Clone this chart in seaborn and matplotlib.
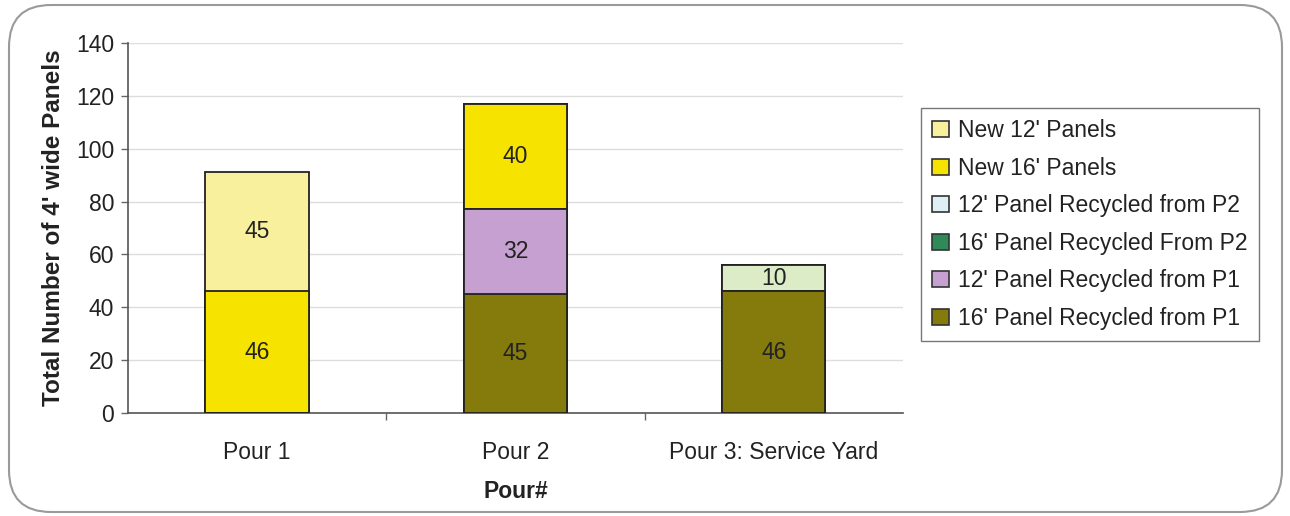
import pandas as pd
import numpy as np
import matplotlib.pyplot as plt
import seaborn as sns
from matplotlib.patches import FancyBboxPatch, Patch

pours = ['Pour 1', 'Pour 2', 'Pour 3: Service Yard']
# stack order, bottom to top
series = ["16' Panel Recycled from P1", "12' Panel Recycled from P1",
          "16' Panel Recycled From P2", "12' Panel Recycled from P2",
          "New 16' Panels", "New 12' Panels"]
p1_16 = [0, 45, 46]
p1_12 = [0, 32, 0]
p2_16 = [0, 0, 0]
p2_12 = [0, 0, 10]
new_16 = [46, 40, 0]
new_12 = [45, 0, 0]
bar_colors = ['#857b0c', '#c5a0d0', '#2f8a57', '#dcecc6', '#f6e400', '#f8f09c']
legend_colors = ['#857b0c', '#c5a0d0', '#2f8a57', '#dff0f4', '#f6e400', '#f8f09c']

values = [p1_16, p1_12, p2_16, p2_12, new_16, new_12]
df = pd.DataFrame({'Pour': pours})
for s, v in zip(series, values):
    df[s] = v
cum = df[series].cumsum(axis=1)
cum['Pour'] = pours

sns.set_theme(style='white')
plt.rcParams['font.family'] = ['Liberation Sans', 'DejaVu Sans']

fig = plt.figure(figsize=(12.9, 5.16), dpi=100)
frame = FancyBboxPatch((9, 4), 1273, 507, boxstyle='round,pad=0,rounding_size=42',
                       transform=None, facecolor='none', edgecolor='#9a9a9a',
                       linewidth=1.5, zorder=-1)
fig.patches.append(frame)
ax = fig.add_axes([128 / 1290, 1 - 413 / 516, 775 / 1290, 370 / 516])
ax.set_facecolor('none')

# draw cumulative totals from top layer down so lower layers cover
for i in range(len(series) - 1, -1, -1):
    sns.barplot(data=cum, x='Pour', y=series[i], color=bar_colors[i], width=0.4,
                edgecolor='#222222', linewidth=1.3, ax=ax, zorder=3, saturation=1)

# segment labels
for i, s in enumerate(series):
    bottoms = cum[series[i - 1]] if i > 0 else pd.Series([0] * 3)
    for j, v in enumerate(df[s]):
        if v > 0:
            ax.text(j, bottoms.iloc[j] + v / 2, str(v), ha='center', va='center',
                    fontsize=16.5, color='#222222', zorder=5)

ax.set_ylim(0, 140)
ax.set_xlim(-0.5, 2.5)
ax.set_yticks(range(0, 141, 20))
ax.yaxis.grid(True, color='#dddddd', linewidth=1)
ax.set_axisbelow(True)
ax.tick_params(axis='y', which='major', left=True, length=5, width=1, color='#666666',
               labelsize=16.5, pad=5, labelcolor='#222222')
ax.tick_params(axis='x', which='major', bottom=False, labelsize=16.5, pad=14,
               labelcolor='#222222')
ax.set_xticks([0.5, 1.5], minor=True)
ax.tick_params(axis='x', which='minor', bottom=True, length=5, width=1, color='#666666')
for side in ['top', 'right']:
    ax.spines[side].set_visible(False)
for side in ['left', 'bottom']:
    ax.spines[side].set_color('#555555')
    ax.spines[side].set_linewidth(1.2)
ax.set_xlabel('Pour#', fontsize=16.5, fontweight='bold', labelpad=12, color='#222222')
ax.set_ylabel("Total Number of 4' wide Panels", fontsize=17.5, fontweight='bold',
              labelpad=8, color='#222222')

handles = [Patch(facecolor=legend_colors[i], edgecolor='#333333', linewidth=1.2, label=series[i])
           for i in range(len(series) - 1, -1, -1)]
leg = fig.legend(handles=handles, loc='upper left', bbox_to_anchor=(921 / 1290, 1 - 108 / 516),
                 borderaxespad=0, frameon=True, fancybox=False, edgecolor='#555555',
                 fontsize=16.5, handlelength=0.7, handleheight=0.7, handletextpad=0.4,
                 labelspacing=0.63, borderpad=0.5)
for t in leg.get_texts():
    t.set_color('#222222')

fig.savefig('out.png', dpi=100)
